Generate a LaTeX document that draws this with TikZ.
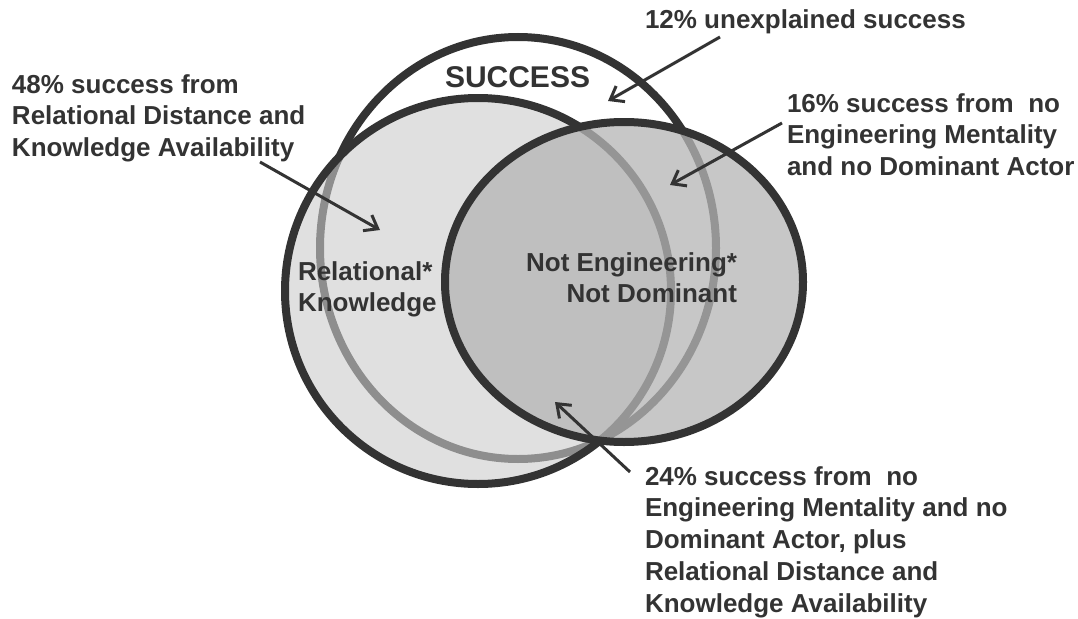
\documentclass[tikz,border=0pt]{standalone}
\usepackage{fontspec}
\setmainfont{Liberation Sans}
\usetikzlibrary{arrows.meta}
\definecolor{ink}{HTML}{333333}
\definecolor{relfill}{gray}{0.80}
\definecolor{nefill}{gray}{0.71}
\begin{document}
\begin{tikzpicture}[x=1pt,y=-1pt,
  outline/.style={draw=ink,line width=8pt},
  lbl/.style={inner sep=0pt,outer sep=0pt,text=ink,font=\fontsize{26}{31.7}\selectfont\bfseries,align=left,anchor=base west},
  ptr/.style={draw=ink,line width=3pt,-{Straight Barb[length=12pt,width=18pt]}}]
\useasboundingbox (0,0) rectangle (1078,618);
% SUCCESS
\draw[outline] (518,248) ellipse [x radius=198pt,y radius=211pt];
% Relational * Knowledge
\fill[relfill,fill opacity=0.6] (478,291) circle [radius=193pt];
\draw[outline] (478,291) circle [radius=193pt];
% Not Engineering * Not Dominant
\fill[nefill,fill opacity=0.755] (624,282) ellipse [x radius=179pt,y radius=160pt];
\draw[outline] (624,282) ellipse [x radius=179pt,y radius=160pt];
% labels (anchor = baseline of the last line)
\node[lbl] (lunexp) at (645,29) {12\% unexplained success};
\node[lbl,font=\fontsize{30}{36}\selectfont\bfseries] (lsucc) at (445,87) {SUCCESS};
\node[lbl] (lrel) at (12,156.4) {48\% success from\\Relational Distance and\\Knowledge Availability};
\node[lbl] (lne) at (787,175.4) {16\% success from\ \ no\\Engineering Mentality\\and no Dominant Actor};
\node[lbl] (lboth) at (645,612) {24\% success from\ \ no\\Engineering Mentality and no\\Dominant Actor, plus\\Relational Distance and\\Knowledge Availability};
\node[lbl] (crel) at (298,311.7) {Relational*\\Knowledge};
\node[lbl,align=right,anchor=base east] (cne) at (737,302.7) {Not Engineering*\\Not Dominant};
% arrows
\coordinate (t1) at (720,37);  \coordinate (h1) at (608,101);
\coordinate (t2) at (260,162); \coordinate (h2) at (380,230);
\coordinate (t3) at (782,123); \coordinate (h3) at (670,185);
\coordinate (t4) at (630,472); \coordinate (h4) at (555,402);
\draw[ptr] (t1) -- (h1);
\draw[ptr] (t2) -- (h2);
\draw[ptr] (t3) -- (h3);
\draw[ptr] (t4) -- (h4);
\end{tikzpicture}
\end{document}
